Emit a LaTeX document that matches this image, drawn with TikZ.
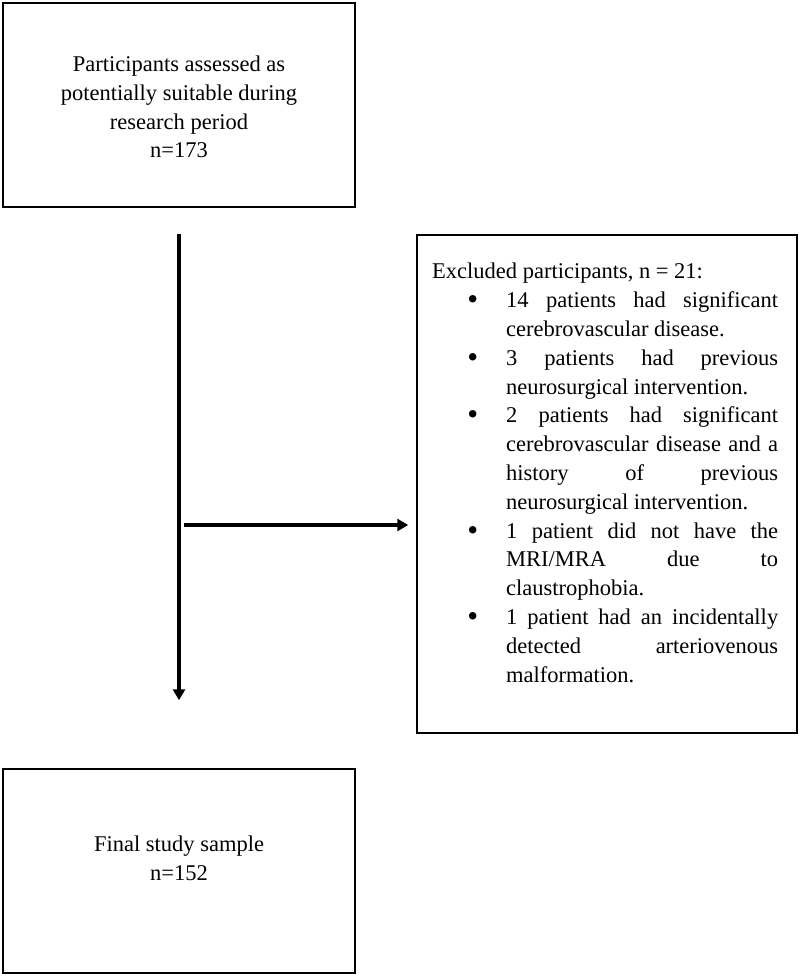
\documentclass[tikz,border=0pt]{standalone}
\usepackage{fontspec}
\setmainfont{Liberation Serif}
\usetikzlibrary{arrows.meta, positioning, calc}

\newcommand{\bigdot}{\raisebox{-2pt}{\fontsize{31}{31}\selectfont\textbullet}}

\tikzset{
    box/.style={draw, line width=1.5pt, inner sep=0pt, align=center},
    txt/.style={font=\fontsize{22.5}{28.8}\selectfont},
    flow/.style={line width=3.2pt, -{Triangle[length=11pt,width=12pt]}}
}

\begin{document}
\begin{tikzpicture}[x=1pt, y=-1pt]
    \useasboundingbox (0,0) rectangle (800,977);

    % boxes
    \node[box, minimum width=352pt, minimum height=204pt] (start) at (179,105) {};
    \node[txt, align=center] (starttext) at (179,107)
        {Participants assessed as\\ potentially suitable during\\ research period\\ n=173};
    \node[box, minimum width=380pt, minimum height=498pt] (excl) at (607,484) {};
    \node[box, minimum width=352pt, minimum height=204pt] (final) at (179,871) {};
    \node[txt, align=center] (finaltext) at (179,858) {Final study sample\\ n=152};

    % exclusion list
    \node[txt, anchor=north west, inner sep=0pt, text width=346pt, align=justify] (excltext) at (432,263)
        {\hyphenpenalty=10000
        Excluded participants, n = 21:
        \begin{list}{\bigdot}{\setlength{\leftmargin}{74pt}\setlength{\labelwidth}{11pt}%
            \setlength{\labelsep}{28pt}\setlength{\itemsep}{0pt}\setlength{\parsep}{0pt}%
            \setlength{\topsep}{0pt}\setlength{\partopsep}{0pt}}
        \item 14 patients had significant\linebreak cerebrovascular disease.
        \item 3 patients had previous\linebreak neurosurgical intervention.
        \item 2 patients had significant\linebreak cerebrovascular disease and a\linebreak history of previous\linebreak neurosurgical intervention.
        \item 1 patient did not have the\linebreak MRI/MRA due to\linebreak claustrophobia.
        \item 1 patient had an incidentally\linebreak detected arteriovenous\linebreak malformation.
        \end{list}};

    % arrows
    \coordinate (split) at (184,525);
    \draw[flow, shorten <=26pt, shorten >=68pt] (start.south) -- (final.north);
    \draw[flow, shorten >=8pt] (split) -- (split -| excl.west);
\end{tikzpicture}
\end{document}
